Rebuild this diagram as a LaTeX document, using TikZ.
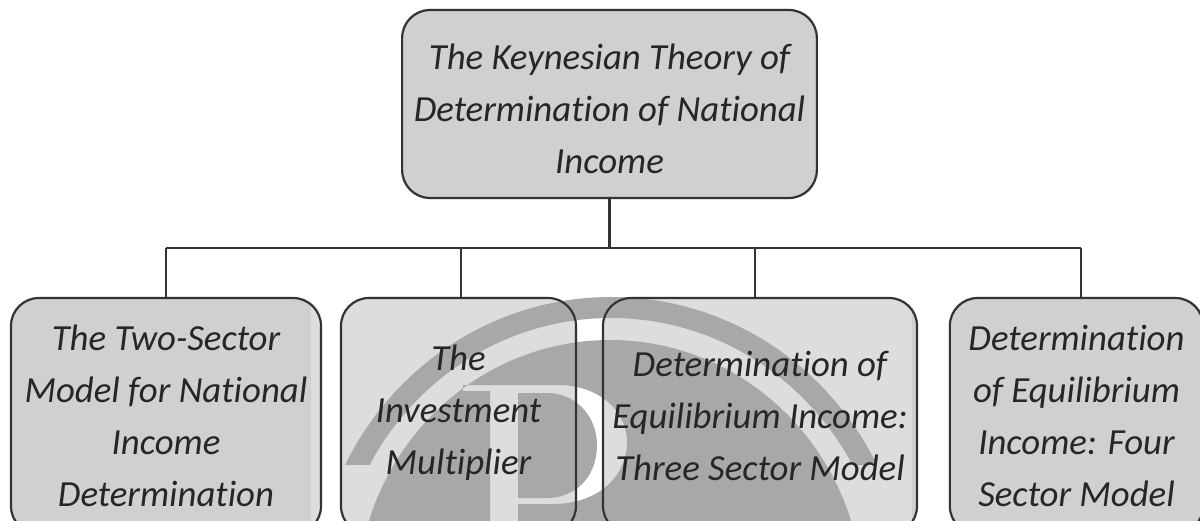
\documentclass[tikz,border=0pt]{standalone}
\usepackage{fontspec}
\setmainfont[Ligatures=NoCommon]{Carlito}
\usetikzlibrary{backgrounds}
\definecolor{boxbase}{HTML}{CFD0D2}
\definecolor{boxlight}{HTML}{DCDDDF}
\definecolor{wmark}{HTML}{A7A8AA}
\definecolor{inkline}{HTML}{333333}
\definecolor{inktext}{HTML}{262626}
\tikzset{
  boxnode/.style={draw=inkline,line width=1.6pt,rounded corners=21pt,align=center,text=inktext,
    font=\itshape\fontsize{27.6}{39}\selectfont,inner sep=0pt},
  connector/.style={draw=inkline,line width=1.6pt},
  basefill/.style={fill=boxbase,rounded corners=21pt},
  lightfill/.style={fill=boxlight,rounded corners=21pt}
}
\begin{document}
\begin{tikzpicture}[x=0.75pt,y=-0.75pt]
\useasboundingbox (0,0) rectangle (1200,521);
\node[boxnode,minimum width=311pt,minimum height=141pt] (top) at (609.5,104) {\rule{0pt}{27pt}The Keynesian Theory of\\Determination of National\\Income};
\node[boxnode,minimum width=232.5pt,minimum height=177pt] (b1) at (166,416) {The Two-Sector\\Model for National\\Income\\Determination};
\node[boxnode,minimum width=176.25pt,minimum height=177pt] (b2) at (458.5,416) {The\\Investment\\Multiplier\\[-29pt]\mbox{}};
\node[boxnode,minimum width=235.5pt,minimum height=177pt] (b3) at (760,416) {Determination of\\Equilibrium Income:\\Three Sector Model};
\node[boxnode,minimum width=190pt,minimum height=177pt] (b4) at (1076.5,416) {Determination\\of Equilibrium\\Income: Four\\Sector Model};
\coordinate (busL) at (166,248);
\coordinate (busR) at (1081,248);
\coordinate (j2) at (461,248);
\coordinate (j3) at (755,248);
\draw[connector] (top.south) -- (top.south |- busL);
\draw[connector] (busL) -- (busR);
\draw[connector] (busL) -- (busL |- b1.north);
\draw[connector] (j2) -- (j2 |- b2.north);
\draw[connector] (j3) -- (j3 |- b3.north);
\draw[connector] (busR) -- (busR |- b4.north);
\begin{scope}[on background layer]
  \path[basefill] (top.south west) rectangle (top.north east);
  \path[basefill] (b4.south west) rectangle (b4.north east);
  \begin{scope}
    \clip[rounded corners=21pt] (b1.south west) rectangle (b1.north east);
    \fill[boxbase] (b1.south west) rectangle (b1.north east);
    \fill[boxlight] (311,298) rectangle (321,535);
  \end{scope}
  \path[lightfill] (b2.south west) rectangle (b2.north east);
  \begin{scope}
    \clip[rounded corners=21pt] (b3.south west) rectangle (b3.north east);
    \fill[boxlight] (b3.south west) rectangle (b3.north east);
    \fill[boxbase] (912,298) rectangle (917,535);
  \end{scope}
  % watermark: arc band
  \begin{scope}
    \clip (330,280) rectangle (900,464);
    \fill[wmark,even odd rule] (611,600) ellipse[x radius=297,y radius=303] (611,600) ellipse[x radius=275,y radius=282];
  \end{scope}
  % watermark: disc with the letter cut out
  \begin{scope}
    \clip (330,300) rectangle (900,521);
    \fill[wmark,even odd rule] (610,600) ellipse[x radius=253,y radius=260]
      (463,385) -- (563,385) .. controls (605,388) and (627,415) .. (627,442)
      .. controls (627,475) and (600,503) .. (555,504) -- (518,504) -- (518,530) -- (490,530) -- (490,391) -- (463,391) -- cycle
      (518,393) -- (550,393) .. controls (580,395) and (597,420) .. (597,445)
      .. controls (597,475) and (578,496) .. (550,498) -- (518,498) -- cycle;
  \end{scope}
\end{scope}
\end{tikzpicture}
\end{document}
